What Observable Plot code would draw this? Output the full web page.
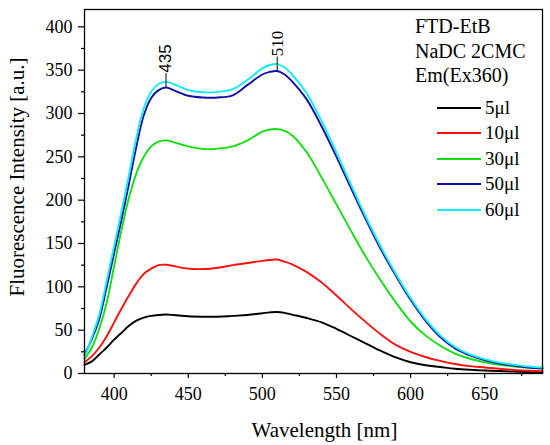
<!DOCTYPE html>
<html><head><meta charset="utf-8">
<script src="https://cdn.jsdelivr.net/npm/d3@7"></script>
<script src="https://cdn.jsdelivr.net/npm/@observablehq/plot@0.6"></script>
<style>
body{margin:0;background:#fff;}
#wrap{position:relative;width:550px;height:445px;}
#wrap svg text{font-family:"Liberation Serif",serif;}
#wrap svg .sans text{font-family:"Liberation Sans",sans-serif;}
#legend{position:absolute;left:415px;top:14.4px;font-family:"Liberation Serif",serif;color:#000;}
#legend .t{font-size:20px;line-height:24.5px;white-space:nowrap;}
#legend .rows{margin-top:7px;}
#legend .row{display:flex;align-items:center;height:25.5px;}
#legend .sw{width:44px;height:2px;margin-left:22px;}
#legend .lb{font-size:19px;margin-left:4px;white-space:nowrap;}
</style></head><body><div id="wrap"></div>
<script>
const wavelength = [380,385,390,395,400,405,410,415,420,425,430,435,440,450,460,470,480,490,500,505,510,515,520,530,540,550,560,570,580,590,600,610,620,630,640,650,660,670,680,689];
const s5  = [10,14,22,30,39,47,55,61,64.5,66.5,67.5,68,67.5,66,65.5,65.5,66.5,67.5,69.5,70.5,71,70,68,64,59,51.5,43,34.5,26,18.5,13,9.5,7.5,5.5,4.3,3.5,2.8,2.2,1.8,1.5];
const s10 = [13,20,30,43,59,75,90,104,115,121,125,125.5,124,121,120.5,122,125,127.5,130,131,131.5,129,126,117,105,90,74,59,45,33,25,19,14.5,11,8.5,7,5.5,4,3.2,2.6];
const s30 = [17,30,52,82,124,166,203,231,250,262,267.5,269,267,262,259,259.5,262,269,279,281.5,282,280,275,255,226,195,164,134,107,82,60,44,32,23,17,13,10,8,6.5,5.7];
const s50 = [22,40,63,100,139,178,219,262,298,318,327,330,327,320.5,318.5,318.5,321,333,345,348,349,345,337,316,285,250,213,177,143,113,85,61,42,29,21,15.5,11.5,9,7,6];
const s60 = [19,42,68,107,147,187,229,272,306,325,334,336.5,334,327,324.5,325,328,339,352,356,357,353,345,323,291,255,217,180,146,115,87,63,44,30.5,22,16.5,12.5,10,8,7];
const seriesNames = ["5μl","10μl","30μl","50μl","60μl"];
const seriesColors = ["#000000","#ff1010","#10e010","#1010a8","#10eef0"];
const seriesValues = [s5,s10,s30,s50,s60];
const legendTitle = ["FTD-EtB","NaDC 2CMC","Em(Ex360)"];
const peaks = [435, 510];
const xMajor = [400,450,500,550,600,650];
const xMinor = [425,475,525,575,625,675];
const yMajor = [0,50,100,150,200,250,300,350,400];
const yMinor = [25,75,125,175,225,275,325,375];

const rows = [];
seriesNames.forEach((name, i) => {
  wavelength.forEach((w, j) => rows.push({series: name, wl: w, v: seriesValues[i][j]}));
});
const peakRows = peaks.map(p => ({wl: p, v: s50[wavelength.indexOf(p)]}));
const serif = "Liberation Serif";

const chart = Plot.plot({
  width: 550, height: 445,
  marginLeft: 84, marginRight: 8, marginTop: 9, marginBottom: 72,
  style: {fontSize: "18px", background: "#fff", color: "#000"},
  x: {domain: [380, 689]},
  y: {domain: [0, 420]},
  color: {domain: seriesNames, range: seriesColors},
  marks: [
    Plot.axisX({ticks: xMajor, tickSize: 5, tickPadding: 9, tickFormat: d3.format("d"), label: null, strokeWidth: 1.2, fontSize: 18}),
    Plot.axisX({ticks: xMinor, tickSize: 3, tickFormat: () => "", label: null, strokeWidth: 1.2}),
    Plot.axisY({ticks: yMajor, tickSize: 6, tickPadding: 6, tickFormat: d3.format("d"), label: null, strokeWidth: 1.2, fontSize: 18}),
    Plot.axisY({ticks: yMinor, tickSize: 3, tickFormat: () => "", label: null, strokeWidth: 1.2}),
    Plot.line(rows, {x: "wl", y: "v", z: "series", stroke: "series", strokeWidth: 1.9, curve: "catmull-rom"}),
    Plot.ruleX(peakRows, {x: "wl", y1: "v", y2: d => d.v + 16, stroke: "#000", strokeWidth: 1}),
    Plot.text(peakRows.filter(d => d.wl === 435), {x: "wl", y: d => d.v + 16, text: d => String(d.wl), rotate: -90, textAnchor: "start", lineAnchor: "middle", fontSize: 17, className: "sans", dy: -1}),
    Plot.text(peakRows.filter(d => d.wl === 510), {x: "wl", y: d => d.v + 16, text: d => String(d.wl), rotate: -90, textAnchor: "start", lineAnchor: "middle", fontSize: 17, dy: -1}),
    Plot.frame({stroke: "#000", strokeWidth: 1.3}),
    Plot.text(["Wavelength [nm]"], {frameAnchor: "bottom", text: d => d, dx: 11, dy: 57, fontSize: 21, letterSpacing: 1, textAnchor: "middle", lineAnchor: "middle"}),
    Plot.text(["Fluorescence Intensity [a.u.]"], {frameAnchor: "left", text: d => d, dx: -67, dy: -14.5, rotate: -90, fontSize: 21, textAnchor: "middle", lineAnchor: "middle"})
  ]
});
const wrap = document.getElementById("wrap");
wrap.appendChild(chart);

const legend = document.createElement("div");
legend.id = "legend";
legendTitle.forEach(t => {
  const d = document.createElement("div"); d.className = "t"; d.textContent = t; legend.appendChild(d);
});
const rs = document.createElement("div"); rs.className = "rows";
seriesNames.forEach((n, i) => {
  const r = document.createElement("div"); r.className = "row";
  const sw = document.createElement("span"); sw.className = "sw"; sw.style.background = seriesColors[i];
  const lb = document.createElement("span"); lb.className = "lb"; lb.textContent = n;
  r.appendChild(sw); r.appendChild(lb); rs.appendChild(r);
});
legend.appendChild(rs);
wrap.appendChild(legend);
</script>
</body></html>
